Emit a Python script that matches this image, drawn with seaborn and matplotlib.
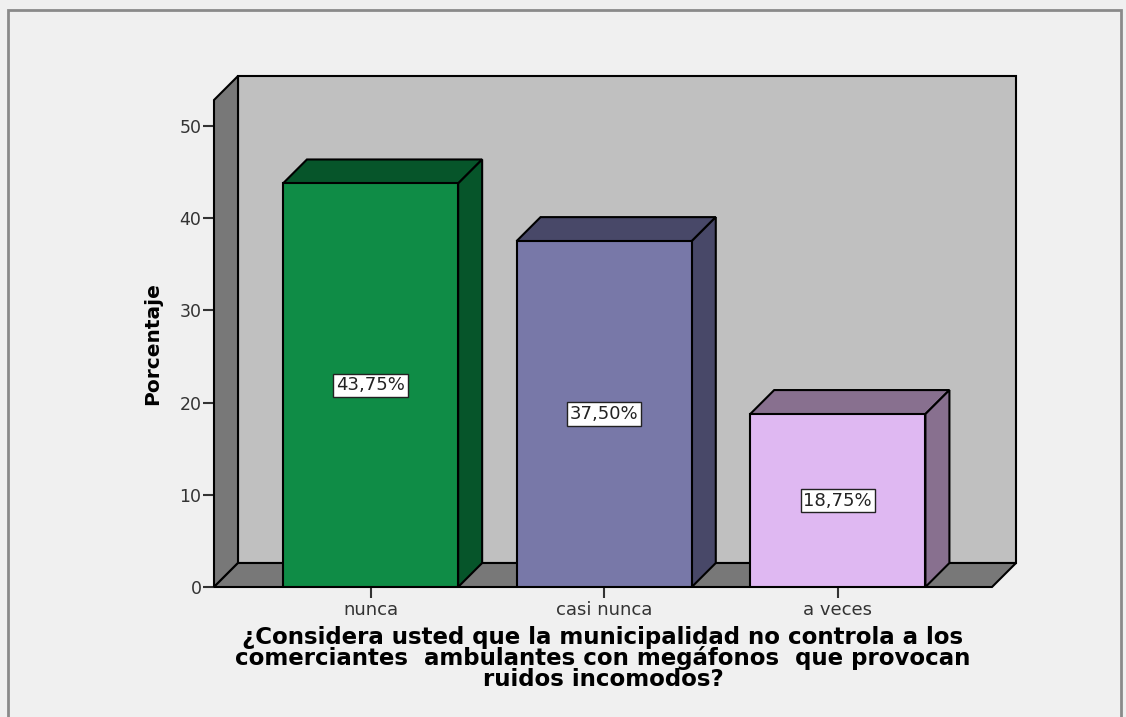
import numpy as np
import matplotlib
matplotlib.use('Agg')
from matplotlib import pyplot as plt
from matplotlib.patches import Polygon, Rectangle
import seaborn as sns

sns.set_style('white')
plt.rcParams['font.family'] = ['DejaVu Sans']

categorias = ['nunca', 'casi nunca', 'a veces']
porcentajes = [43.75, 37.50, 18.75]
colores_frente = ['#0f8c46', '#7878a8', '#dfb8f2']
colores_lado = ['#06552a', '#484868', '#88708f']
titulo_x = ('¿Considera usted que la municipalidad no controla a los\n'
            'comerciantes  ambulantes con megáfonos  que provocan\n'
            'ruidos incomodos?')

W, H = 1126, 717
fig = plt.figure(figsize=(W / 100, H / 100), dpi=100)
fig.patch.set_facecolor('#f0f0f0')
fig.patches.append(Rectangle((8 / W, -0.05), (1121 - 8) / W, 1.05 - 10 / H,
                             transform=fig.transFigure, fill=False,
                             ec='#8a8a8a', lw=2))

# front plane of the 3d box, in pixels
left_px, right_px, bottom_px, top_px = 214, 992, 587, 100
ax = fig.add_axes([left_px / W, (H - bottom_px) / H,
                   (right_px - left_px) / W, (bottom_px - top_px) / H])
ax.set_facecolor('none')

sns.barplot(x=categorias, y=porcentajes, hue=categorias, palette=colores_frente,
            saturation=1, width=0.75, edgecolor='black', linewidth=1.5,
            legend=False, ax=ax, zorder=4)

xmin, xmax = -0.67, 2.66
ymax = 52.8
ax.set_xlim(xmin, xmax)
ax.set_ylim(0, ymax)

depth = 24  # px
dx = depth * (xmax - xmin) / (right_px - left_px)
dy = depth * ymax / (bottom_px - top_px)

# walls and floor
ax.add_patch(Rectangle((xmin + dx, dy), xmax - xmin, ymax, fc='#c0c0c0',
                       ec='black', lw=1.5, zorder=0, clip_on=False))
ax.add_patch(Polygon([(xmin, 0), (xmin + dx, dy), (xmin + dx, ymax + dy), (xmin, ymax)],
                     fc='#787878', ec='black', lw=1.5, zorder=1, clip_on=False))
ax.add_patch(Polygon([(xmin, 0), (xmax, 0), (xmax + dx, dy), (xmin + dx, dy)],
                     fc='#787878', ec='black', lw=1.5, zorder=1, clip_on=False))

barras = list(ax.patches)[:len(porcentajes)]
for barra, lado, valor in zip(barras, colores_lado, porcentajes):
    x0, w, h = barra.get_x(), barra.get_width(), barra.get_height()
    ax.add_patch(Polygon([(x0, h), (x0 + w, h), (x0 + w + dx, h + dy), (x0 + dx, h + dy)],
                         fc=lado, ec='black', lw=1.5, zorder=3, clip_on=False))
    ax.add_patch(Polygon([(x0 + w, 0), (x0 + w + dx, dy), (x0 + w + dx, h + dy), (x0 + w, h)],
                         fc=lado, ec='black', lw=1.5, zorder=3, clip_on=False))
    etiqueta = '{:.2f}%'.format(valor).replace('.', ',')
    ax.text(x0 + w / 2, h / 2, etiqueta, ha='center', va='center', fontsize=13,
            color='#222222', zorder=6,
            bbox=dict(boxstyle='square,pad=0.15', fc='white', ec='#222222', lw=1))

for s in ax.spines.values():
    s.set_visible(False)

ax.set_yticks(range(0, 51, 10))
ax.tick_params(axis='y', left=True, length=8, width=1.5, color='#333333',
               labelsize=12.5, labelcolor='#333333', pad=1)
ax.tick_params(axis='x', bottom=True, length=8, width=1.5, color='#333333',
               labelsize=13, labelcolor='#333333', pad=2)

ax.set_ylabel('Porcentaje', fontsize=14.5, fontweight='bold', color='black')
ax.yaxis.set_label_coords(-0.067, 0.5)
ax.set_xlabel(titulo_x, fontsize=16.5, fontweight='bold', color='black',
              linespacing=0.84)
ax.xaxis.set_label_coords(0.5, -0.081)

plt.savefig('out.png', dpi=100, facecolor=fig.get_facecolor())
